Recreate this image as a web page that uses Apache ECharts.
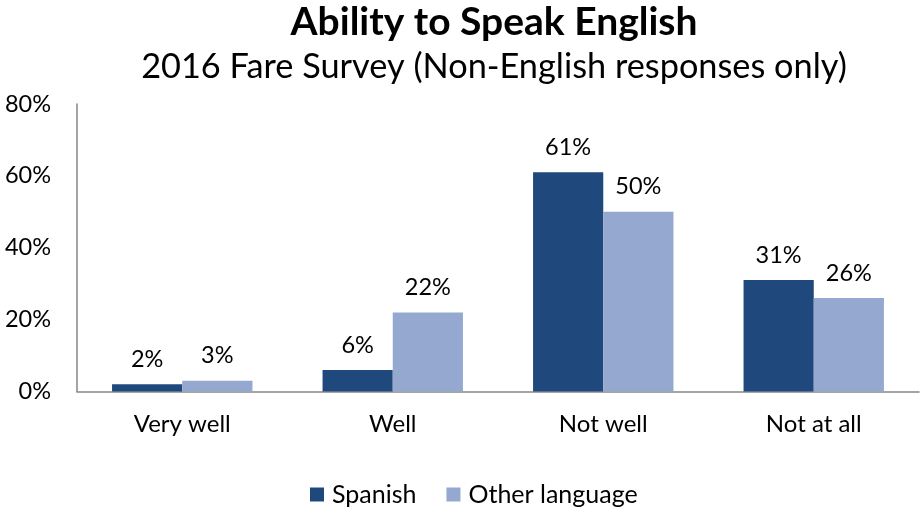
<!DOCTYPE html>
<html>
<head>
<meta charset="utf-8">
<script src="https://cdn.jsdelivr.net/npm/echarts@6/dist/echarts.min.js"></script>
<style>
  html, body { margin: 0; padding: 0; background: #ffffff; }
  #chart { width: 921px; height: 510px; }
</style>
</head>
<body>
<div id="chart"></div>
<script>
// Survey responses by language group
const categories = ['Very well', 'Well', 'Not well', 'Not at all'];
const spanish = [2, 6, 61, 31];
const otherLanguage = [3, 22, 50, 26];
const seriesNames = ['Spanish', 'Other language'];
const yTicks = [0, 20, 40, 60, 80];

const FONT = 'Lato, "Open Sans", sans-serif';
const chart = echarts.init(document.getElementById('chart'), null, { renderer: 'canvas' });

const labelStyle = {
  show: true,
  position: 'top',
  distance: 13,
  formatter: p => p.value + '%',
  color: '#000',
  fontFamily: FONT,
  fontSize: 23.5
};

chart.setOption({
  animation: false,
  title: [
    {
      text: 'Ability to Speak English',
      left: 489, top: -2, textAlign: 'center',
      textStyle: { fontFamily: FONT, fontWeight: 'bold', fontSize: 39, color: '#000' }
    },
    {
      text: '2016 Fare Survey (Non-English responses only)',
      left: 489, top: 45, textAlign: 'center',
      textStyle: { fontFamily: FONT, fontWeight: 'normal', fontSize: 34.3, color: '#000' }
    }
  ],
  legend: {
    data: seriesNames,
    bottom: -2,
    left: 305,
    itemWidth: 14,
    itemHeight: 14,
    itemGap: 30,
    icon: 'rect',
    textStyle: { fontFamily: FONT, fontSize: 25, color: '#000', padding: [0, 0, 0, 3] }
  },
  grid: { left: 77, right: 2, top: 104, bottom: 118.5 },
  xAxis: {
    type: 'category',
    data: categories,
    axisLine: { lineStyle: { color: '#868686', width: 1.5 } },
    axisTick: { show: false },
    axisLabel: { color: '#000', fontFamily: FONT, fontSize: 24, margin: 21 }
  },
  yAxis: {
    type: 'value',
    min: yTicks[0],
    max: yTicks[yTicks.length - 1],
    interval: 20,
    axisLine: { show: true, lineStyle: { color: '#868686', width: 1.5 } },
    axisTick: { show: false },
    splitLine: { show: false },
    axisLabel: { color: '#000', fontFamily: FONT, fontSize: 23.5, margin: 26, formatter: v => v + '%' }
  },
  series: [
    {
      name: seriesNames[0], type: 'bar', data: spanish,
      barGap: '0%', barCategoryGap: '33.3%',
      itemStyle: { color: '#1F497D' },
      label: labelStyle
    },
    {
      name: seriesNames[1], type: 'bar', data: otherLanguage,
      itemStyle: { color: '#95A9D0' },
      label: labelStyle
    }
  ]
});
</script>
</body>
</html>
